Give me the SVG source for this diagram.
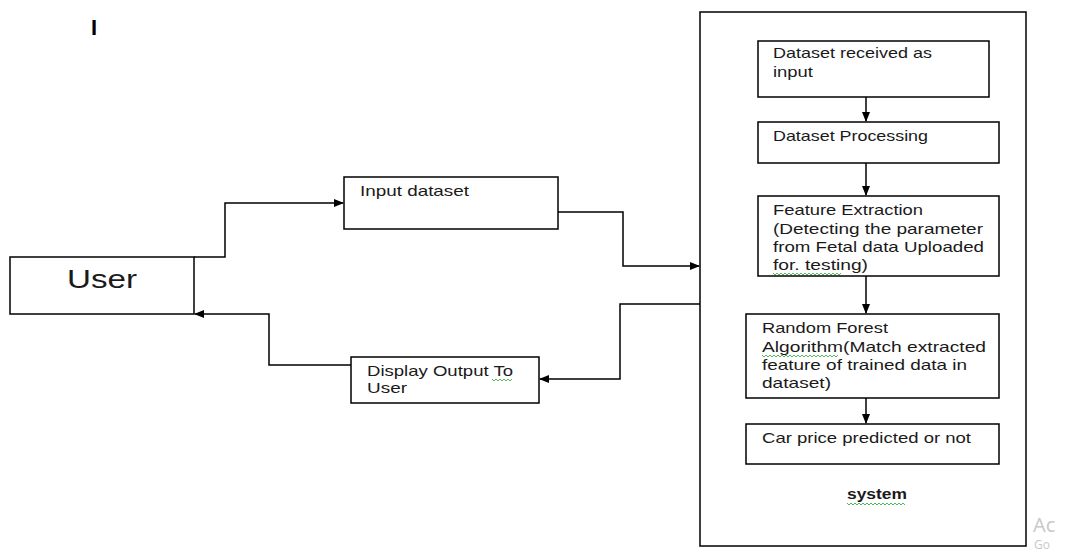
<svg xmlns="http://www.w3.org/2000/svg" width="1066" height="554" viewBox="0 0 1066 554">
<defs>
<style>
.box{fill:#fff;stroke:#000;stroke-width:1.5}
.ln{fill:none;stroke:#000;stroke-width:1.5}
.t{font-family:"Liberation Sans",Arial,sans-serif;font-size:15px;fill:#1a1a1a}
.big{font-size:25px}
.bold{font-weight:bold;font-size:14px}
.sq{fill:none;stroke:#3cb043;stroke-width:0.9}
.wm{font-family:"Open Sans","Liberation Sans",sans-serif;fill:#c8c8c8}
</style>
<marker id="ah" markerWidth="10" markerHeight="8" refX="9" refY="4" orient="auto" markerUnits="userSpaceOnUse">
<path d="M0,0 L10,4 L0,8 Z" fill="#000"/>
</marker>
</defs>
<rect width="1066" height="554" fill="#fff"/>
<text x="91" y="35" font-family="Liberation Sans,Arial,sans-serif" font-weight="bold" font-size="22" fill="#000">I</text>

<g id="system">
<rect class="box" x="700" y="12" width="326" height="534"/>
<text class="t bold" x="847" y="499" textLength="60" lengthAdjust="spacingAndGlyphs">system</text>
<path class="sq" d="M847,503 l2,2 l2,-2 l2,2 l2,-2 l2,2 l2,-2 l2,2 l2,-2 l2,2 l2,-2 l2,2 l2,-2 l2,2 l2,-2 l2,2 l2,-2 l2,2 l2,-2 l2,2 l2,-2 l2,2 l2,-2 l2,2 l2,-2 l2,2 l2,-2 l2,2 l2,-2 l2,2"/>
</g>

<g id="user">
<rect class="box" x="10" y="257" width="184" height="57"/>
<text class="t big" x="67" y="288" textLength="70" lengthAdjust="spacingAndGlyphs">User</text>
</g>

<g id="input">
<rect class="box" x="344" y="177" width="214" height="52"/>
<text class="t" x="360" y="196" textLength="109" lengthAdjust="spacingAndGlyphs">Input dataset</text>
</g>

<g id="display">
<rect class="box" x="351" y="357" width="188" height="46"/>
<text class="t" x="367" y="376" textLength="146" lengthAdjust="spacingAndGlyphs">Display Output To</text>
<text class="t" x="367" y="393" textLength="40" lengthAdjust="spacingAndGlyphs">User</text>
<path class="sq" d="M492,379 l2,2 l2,-2 l2,2 l2,-2 l2,2 l2,-2 l2,2 l2,-2 l2,2 l2,-2"/>
</g>

<g id="received">
<rect class="box" x="758" y="41" width="231" height="56"/>
<text class="t" x="773" y="58" textLength="159" lengthAdjust="spacingAndGlyphs">Dataset received as</text>
<text class="t" x="773" y="77" textLength="40" lengthAdjust="spacingAndGlyphs">input</text>
</g>

<g id="processing">
<rect class="box" x="758" y="122" width="241" height="41"/>
<text class="t" x="773" y="141" textLength="155" lengthAdjust="spacingAndGlyphs">Dataset Processing</text>
</g>

<g id="feature">
<rect class="box" x="758" y="196" width="241" height="80"/>
<text class="t" x="773" y="215" textLength="150" lengthAdjust="spacingAndGlyphs">Feature Extraction</text>
<text class="t" x="773" y="234" textLength="210" lengthAdjust="spacingAndGlyphs">(Detecting the parameter</text>
<text class="t" x="773" y="252" textLength="211" lengthAdjust="spacingAndGlyphs">from Fetal data Uploaded</text>
<text class="t" x="773" y="270" textLength="95" lengthAdjust="spacingAndGlyphs">for. testing)</text>
<path class="sq" d="M773,273 l2,2 l2,-2 l2,2 l2,-2 l2,2 l2,-2 l2,2 l2,-2 l2,2 l2,-2 l2,2 l2,-2 l2,2 l2,-2 l2,2 l2,-2 l2,2 l2,-2 l2,2 l2,-2 l2,2 l2,-2 l2,2 l2,-2 l2,2 l2,-2 l2,2 l2,-2 l2,2 l2,-2 l2,2 l2,-2 l2,2 l2,-2"/>
</g>

<g id="forest">
<rect class="box" x="746" y="314" width="253" height="84"/>
<text class="t" x="762" y="333" textLength="126" lengthAdjust="spacingAndGlyphs">Random Forest</text>
<text class="t" x="762" y="352" textLength="224" lengthAdjust="spacingAndGlyphs">Algorithm(Match extracted</text>
<text class="t" x="762" y="370" textLength="205" lengthAdjust="spacingAndGlyphs">feature of trained data in</text>
<text class="t" x="762" y="388" textLength="69" lengthAdjust="spacingAndGlyphs">dataset)</text>
<path class="sq" d="M762,355 l2,2 l2,-2 l2,2 l2,-2 l2,2 l2,-2 l2,2 l2,-2 l2,2 l2,-2 l2,2 l2,-2 l2,2 l2,-2 l2,2 l2,-2 l2,2 l2,-2 l2,2 l2,-2 l2,2 l2,-2 l2,2 l2,-2 l2,2 l2,-2 l2,2 l2,-2 l2,2 l2,-2 l2,2 l2,-2 l2,2 l2,-2 l2,2 l2,-2 l2,2 l2,-2"/>
</g>

<g id="predicted">
<rect class="box" x="746" y="424" width="253" height="40"/>
<text class="t" x="762" y="443" textLength="209" lengthAdjust="spacingAndGlyphs">Car price predicted or not</text>
</g>

<g id="connectors">
<polyline class="ln" points="194,257 225,257 225,203 343,203" marker-end="url(#ah)"/>
<polyline class="ln" points="558,212 623,212 623,266 699,266" marker-end="url(#ah)"/>
<polyline class="ln" points="700,304 620,304 620,379 540,379" marker-end="url(#ah)"/>
<polyline class="ln" points="351,365 269,365 269,314 195,314" marker-end="url(#ah)"/>
<line class="ln" x1="866" y1="97" x2="866" y2="121" marker-end="url(#ah)"/>
<line class="ln" x1="866" y1="163" x2="866" y2="195" marker-end="url(#ah)"/>
<line class="ln" x1="866" y1="276" x2="866" y2="313" marker-end="url(#ah)"/>
<line class="ln" x1="866" y1="398" x2="866" y2="423" marker-end="url(#ah)"/>
</g>

<text class="wm" x="1033" y="532" font-size="20">Ac</text>
<text class="wm" x="1034" y="549" font-size="12">Go</text>
</svg>
